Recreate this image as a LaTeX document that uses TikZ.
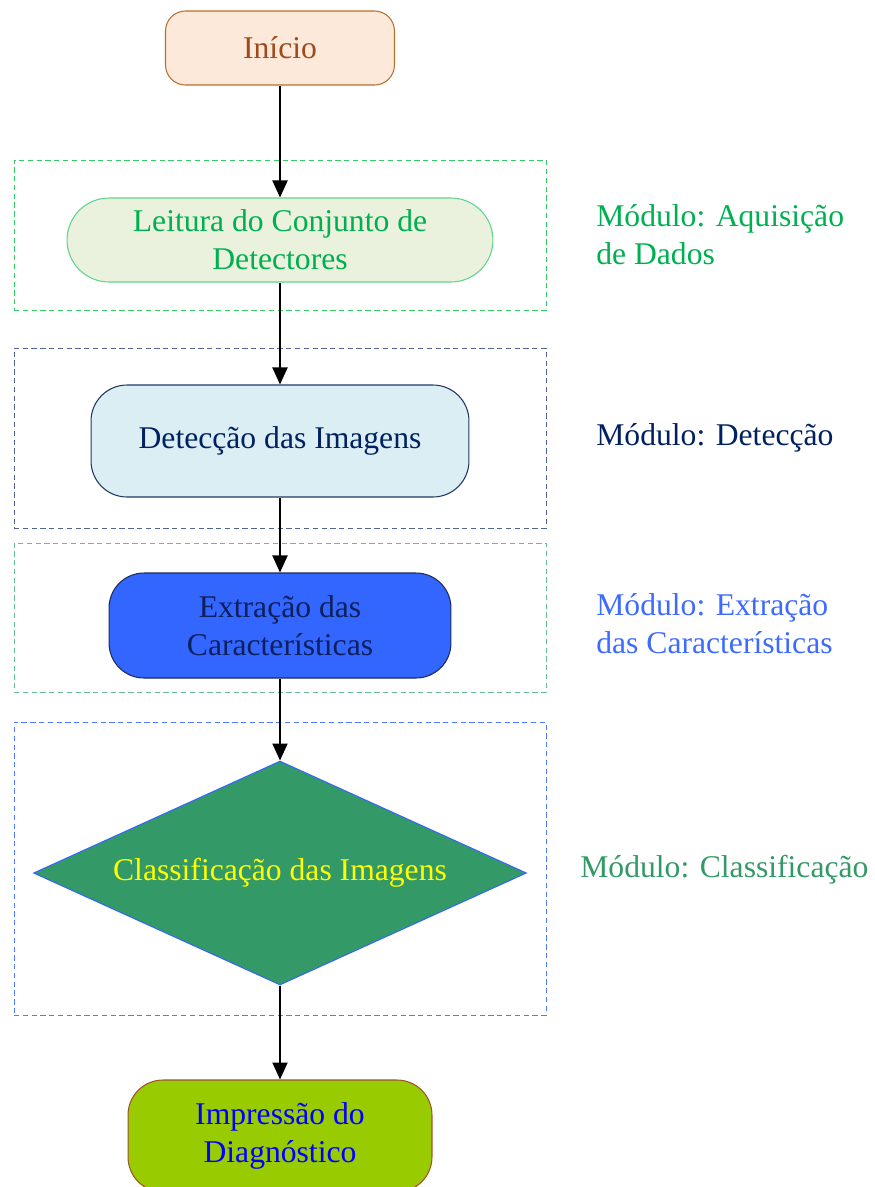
\documentclass[tikz,border=0pt]{standalone}
\usepackage{fontspec}
\setmainfont{Liberation Serif}
\usepackage{tikz}
\usetikzlibrary{shapes.geometric, shapes.misc, arrows.meta, positioning}
\definecolor{inifill}{RGB}{252,233,218}
\definecolor{inidraw}{RGB}{184,110,46}
\definecolor{initext}{RGB}{158,74,26}
\definecolor{aqgreen}{RGB}{0,176,80}
\definecolor{aqfill}{RGB}{234,241,221}
\definecolor{aqdraw}{RGB}{92,214,138}
\definecolor{aqdash}{RGB}{51,204,102}
\definecolor{detnavy}{RGB}{0,32,96}
\definecolor{detfill}{RGB}{218,238,243}
\definecolor{detdraw}{RGB}{31,56,100}
\definecolor{detdash}{RGB}{80,100,150}
\definecolor{extfill}{RGB}{51,102,255}
\definecolor{extdraw}{RGB}{31,42,90}
\definecolor{exttext}{RGB}{13,31,92}
\definecolor{extdash}{RGB}{102,190,150}
\definecolor{extlabel}{RGB}{61,107,255}
\definecolor{clsfill}{RGB}{51,153,102}
\definecolor{clsdraw}{RGB}{51,102,255}
\definecolor{clstext}{RGB}{255,255,0}
\definecolor{clsdash}{RGB}{77,122,255}
\definecolor{impfill}{RGB}{153,204,0}
\definecolor{impdraw}{RGB}{160,82,45}
\definecolor{imptext}{RGB}{0,0,255}
\tikzset{
  etapa/.style={rectangle, align=center, inner sep=0pt, line width=0.6pt,
    font=\fontsize{18}{21.5}\selectfont},
  grupo/.style={rectangle, dashed, line width=0.5pt, dash pattern=on 3pt off 2pt,
    minimum width=10.64cm, inner sep=0pt},
  modulo/.style={anchor=west, align=left, inner sep=0pt,
    font=\fontsize{18}{21.5}\selectfont},
  seta/.style={-{Triangle[width=0.3cm, length=0.34cm]}, line width=1.1pt, color=black}
}

\begin{document}
\begin{tikzpicture}[x=0.02cm, y=-0.02cm]
  \useasboundingbox (0,0) rectangle (875,1187);
  % grupos (modulos)
  \node[grupo, draw=aqdash, minimum height=3cm] (g1) at (280,235) {};
  \node[grupo, draw=detdash, minimum height=3.6cm] (g2) at (280,438) {};
  \node[grupo, draw=extdash, minimum height=2.98cm] (g3) at (280,617.5) {};
  \node[grupo, draw=clsdash, minimum height=5.86cm] (g4) at (280,868.5) {};
  % etapas
  \node[etapa, fill=inifill, draw=inidraw, text=initext, rounded corners=0.4cm,
    minimum width=4.58cm, minimum height=1.48cm] (inicio) at (280,48) {Início};
  \node[etapa, fill=aqfill, draw=aqdraw, text=aqgreen, rounded corners=0.84cm,
    minimum width=8.52cm, minimum height=1.68cm] (leitura) at (280,240) {Leitura do Conjunto de\\Detectores};
  \node[etapa, fill=detfill, draw=detdraw, text=detnavy, rounded corners=0.72cm,
    minimum width=7.56cm, minimum height=2.24cm] (deteccao) at (280,441) {Detecção das Imagens};
  \node[etapa, fill=extfill, draw=extdraw, text=exttext, rounded corners=0.7cm,
    minimum width=6.84cm, minimum height=2.1cm] (extracao) at (280,625.5) {Extração das\\Características};
  \node[etapa, shape=diamond, aspect=2.2, fill=clsfill, draw=clsdraw, text=clstext,
    minimum width=9.86cm, minimum height=4.48cm] (classif) at (280,873) {Classificação das Imagens};
  \node[etapa, fill=impfill, draw=impdraw, text=imptext, rounded corners=0.7cm,
    minimum width=6.08cm, minimum height=2.24cm] (impressao) at (280,1136) {Impressão do\\Diagnóstico};
  % rotulos dos modulos
  \node[modulo, text=aqgreen] (m1) at (596,235) {Módulo: Aquisição\\de Dados};
  \node[modulo, text=detnavy] (m2) at (596,438) {Módulo: Detecção};
  \node[modulo, text=extlabel] (m3) at (596,624) {Módulo: Extração\\das Características};
  \node[modulo, text=clsfill] (m4) at (580,870) {Módulo: Classificação};
  % fluxo
  \draw[seta] (inicio) -- (leitura);
  \draw[seta] (leitura) -- (deteccao);
  \draw[seta] (deteccao) -- (extracao);
  \draw[seta] (extracao) -- (classif);
  \draw[seta] (classif) -- (impressao);
\end{tikzpicture}
\end{document}
